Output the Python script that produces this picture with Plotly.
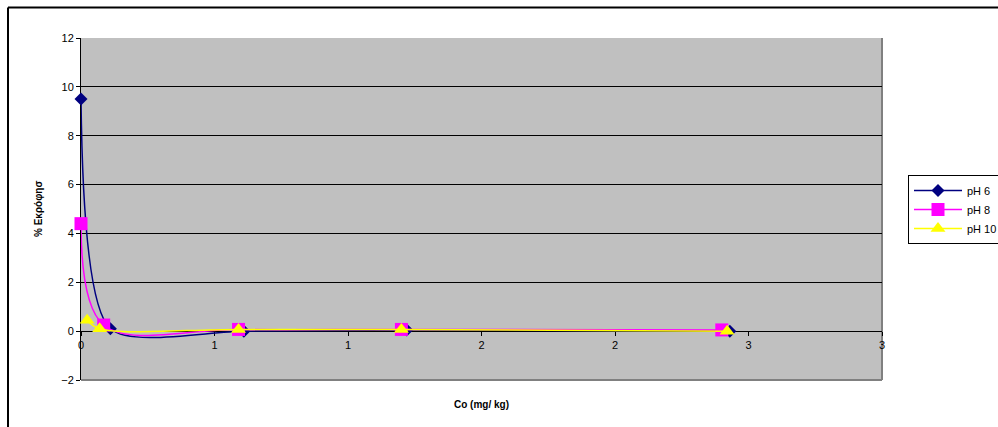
import plotly.graph_objects as go

# Data
ph6_x = [0.0, 0.11, 0.61, 1.22, 2.43]
ph6_y = [9.5, 0.1, 0.0, 0.05, 0.0]
ph8_x = [0.0, 0.085, 0.59, 1.2, 2.4]
ph8_y = [4.4, 0.25, 0.07, 0.07, 0.05]
ph10_x = [0.023, 0.07, 0.59, 1.2, 2.42]
ph10_y = [0.45, 0.1, 0.07, 0.07, 0.0]

x_tickvals = [0, 0.5, 1, 1.5, 2, 2.5, 3]
x_ticktext = ["0", "1", "1", "2", "2", "3", "3"]
y_tickvals = [-2, 0, 2, 4, 6, 8, 10, 12]

W, H = 998, 427
L, R, T, B = 81, 116, 38, 47
FONT = "Liberation Sans, Arial, sans-serif"

fig = go.Figure()
fig.add_trace(go.Scatter(
    x=ph6_x, y=ph6_y, name="pH 6", mode="lines+markers", cliponaxis=False,
    line=dict(color="#000080", width=1.5, shape="spline", smoothing=0.72),
    marker=dict(symbol="diamond", size=10, color="#000080"),
))
fig.add_trace(go.Scatter(
    x=ph8_x, y=ph8_y, name="pH 8", mode="lines+markers", cliponaxis=False,
    line=dict(color="#FF00FF", width=1.5, shape="spline", smoothing=1.0),
    marker=dict(symbol="square", size=13, color="#FF00FF"),
))
fig.add_trace(go.Scatter(
    x=ph10_x, y=ph10_y, name="pH 10", mode="lines+markers", cliponaxis=False,
    line=dict(color="#FFFF00", width=1.5, shape="spline", smoothing=1.0),
    marker=dict(symbol="triangle-up", size=13, color="#FFFF00"),
))

pw = W - L - R
ph = H - T - B

def px(xpage):
    return (xpage - L) / pw

def py(ypage):
    return 1 - (ypage - T) / ph

fig.update_layout(
    width=W, height=H,
    margin=dict(l=L, r=R, t=T, b=B, autoexpand=False),
    paper_bgcolor="white",
    plot_bgcolor="#C0C0C0",
    font=dict(family=FONT, size=11, color="black"),
    showlegend=True,
    legend=dict(
        xref="container", yref="container",
        x=908 / W, y=1 - 175 / H, xanchor="left", yanchor="top",
        bgcolor="white", bordercolor="black", borderwidth=1,
        font=dict(family=FONT, size=11, color="black"),
        itemwidth=48, tracegroupgap=0,
    ),
    xaxis=dict(
        range=[0, 3], tickvals=x_tickvals, ticktext=x_ticktext,
        showgrid=False, zeroline=False,
        showline=True, linecolor="black", linewidth=1,
        ticks="outside", ticklen=4, tickcolor="black",
        anchor="free", position=2 / 14, layer="below traces",
        tickfont=dict(family=FONT, size=11, color="black"),
    ),
    yaxis=dict(
        range=[-2, 12], tickvals=y_tickvals,
        showgrid=True, gridcolor="black", gridwidth=1,
        zeroline=False, layer="below traces",
        showline=True, linecolor="black", linewidth=1,
        ticks="outside", ticklen=4, tickcolor="black",
        tickfont=dict(family=FONT, size=11, color="black"),
    ),
    shapes=[
        # plot area border (grey right / bottom)
        dict(type="line", xref="paper", yref="paper", x0=1, x1=1, y0=0, y1=1,
             line=dict(color="#808080", width=2), layer="below"),
        dict(type="line", xref="paper", yref="paper", x0=0, x1=1, y0=0, y1=0,
             line=dict(color="#808080", width=2), layer="below"),
        # outer chart frame (top and left visible)
        dict(type="line", xref="paper", yref="paper", x0=px(8), x1=px(1010),
             y0=py(7.5), y1=py(7.5), line=dict(color="black", width=2)),
        dict(type="line", xref="paper", yref="paper", x0=px(8), x1=px(8),
             y0=py(7.5), y1=py(440), line=dict(color="black", width=2)),
    ],
    annotations=[
        dict(text="<b>% Εκρόφησ</b>", xref="paper", yref="paper",
             x=px(38), y=py(209), textangle=-90, showarrow=False,
             font=dict(family=FONT, size=10, color="black"),
             xanchor="center", yanchor="middle"),
        dict(text="<b>Co (mg/ kg)</b>", xref="paper", yref="paper",
             x=px(481), y=py(404), showarrow=False,
             font=dict(family=FONT, size=10, color="black"),
             xanchor="center", yanchor="middle"),
    ],
)

fig.write_html(
    "out.html",
    config={"displayModeBar": False},
    post_script="document.body.style.margin='0';document.body.style.overflow='hidden';",
)
